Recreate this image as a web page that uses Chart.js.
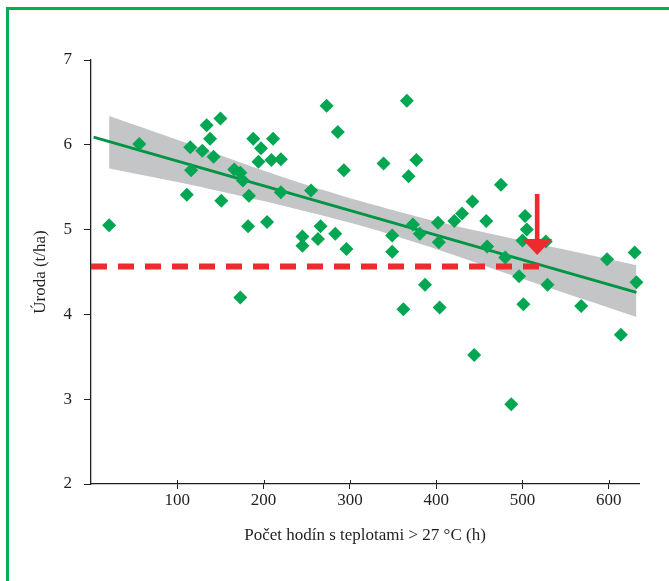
<!DOCTYPE html>
<html>
<head>
<meta charset="utf-8">
<script src="https://cdn.jsdelivr.net/npm/chart.js@4.4.0/dist/chart.umd.min.js"></script>
<style>
    html, body { margin: 0; padding: 0; background: #fff; }
    #wrap { position: relative; width: 669px; height: 581px; }
    #frame {
        position: absolute; left: 6px; top: 7px; right: 0; bottom: 0;
        border-top: 3px solid #00b050; border-left: 3px solid #00b050;
        pointer-events: none;
    }
</style>
</head>
<body>
<div id="wrap">
    <canvas id="chart" width="669" height="581"></canvas>
    <div id="frame"></div>
</div>
<script>
// observations: hours above 27 °C vs. yield (t/ha)
const hours = [21, 56, 111, 115, 116, 129, 134, 138, 142, 150, 151, 166, 173, 173, 176, 182, 183, 188, 194, 197,
    204, 209, 211, 220, 220, 245, 245, 255, 263, 266, 273, 283, 286, 293, 296, 339, 349, 349, 362, 366,
    368, 373, 377, 381, 387, 402, 403, 404, 421, 430, 442, 444, 458, 459, 475, 480, 487, 496, 500, 501,
    503, 505, 527, 529, 568, 598, 614, 630, 632];
const yields = [5.05, 6.01, 5.41, 5.97, 5.70, 5.93, 6.23, 6.07, 5.86, 6.31, 5.34, 5.71, 5.67, 4.20, 5.58, 5.04, 5.40, 6.07, 5.80, 5.96,
    5.09, 5.82, 6.07, 5.44, 5.83, 4.92, 4.81, 5.46, 4.89, 5.04, 6.46, 4.95, 6.15, 5.70, 4.77, 5.78, 4.93, 4.74, 4.06, 6.52,
    5.63, 5.06, 5.82, 4.95, 4.35, 5.08, 4.85, 4.08, 5.10, 5.19, 5.33, 3.52, 5.10, 4.80, 5.53, 4.67, 2.94, 4.45, 4.87, 4.12,
    5.16, 5.00, 4.86, 4.35, 4.10, 4.65, 3.76, 4.73, 4.38];

// regression line and its confidence band
const trendX = [3, 632];
const trendY = [6.09, 4.26];
const bandX = [21, 100, 219, 311, 403, 500, 632];
const bandLow = [5.72, 5.56, 5.29, 5.05, 4.76, 4.42, 3.97];
const bandHigh = [6.34, 6.06, 5.63, 5.34, 5.09, 4.87, 4.58];

// threshold line and arrow
const limitX = [0, 519.5];
const limitY = 4.565;
const arrowX = 517;
const arrowY = [5.42, 4.70];

const xTicks = [100, 200, 300, 400, 500, 600];

const ink = "#231f20";
const red = "#ee2a2f";
const font = { family: "'Liberation Serif', serif", size: 17 };

const toPoints = (xs, ys) => xs.map((x, i) => ({ x, y: ys[i] }));

const extras = {
    id: "extras",
    afterDatasetsDraw(chart) {
        const { ctx, scales: { x, y } } = chart;
        ctx.save();
        // x ticks also reach up into the plot a little
        ctx.strokeStyle = ink;
        ctx.lineWidth = 1;
        const bottom = chart.chartArea.bottom;
        xTicks.forEach(v => {
            const px = Math.round(x.getPixelForValue(v)) + 0.5;
            ctx.beginPath();
            ctx.moveTo(px, bottom - 4);
            ctx.lineTo(px, bottom);
            ctx.stroke();
        });
        // red arrow
        const ax = x.getPixelForValue(arrowX);
        const top = y.getPixelForValue(arrowY[0]);
        const tip = y.getPixelForValue(arrowY[1]);
        const headH = 16, headW = 30;
        ctx.fillStyle = red;
        ctx.fillRect(ax - 2.3, top, 4.6, tip - top - headH + 1);
        ctx.beginPath();
        ctx.moveTo(ax - headW / 2, tip - headH);
        ctx.lineTo(ax + headW / 2, tip - headH);
        ctx.lineTo(ax, tip);
        ctx.closePath();
        ctx.fill();
        ctx.restore();
    }
};

new Chart(document.getElementById("chart"), {
    type: "scatter",
    data: {
        datasets: [
            {
                type: "line",
                data: limitX.map(x => ({ x, y: limitY })),
                borderColor: red,
                borderWidth: 6,
                borderDash: [16, 11],
                borderCapStyle: "butt",
                pointRadius: 0,
                order: 0
            },
            {
                data: toPoints(hours, yields),
                pointStyle: "rectRot",
                pointRadius: 7,
                backgroundColor: "#00a651",
                borderWidth: 0,
                order: 1
            },
            {
                type: "line",
                data: toPoints(trendX, trendY),
                borderColor: "#009444",
                borderWidth: 2.8,
                pointRadius: 0,
                order: 2
            },
            {
                type: "line",
                data: toPoints(bandX, bandLow),
                borderWidth: 0,
                pointRadius: 0,
                tension: 0.3,
                order: 4
            },
            {
                type: "line",
                data: toPoints(bandX, bandHigh),
                borderWidth: 0,
                pointRadius: 0,
                tension: 0.3,
                fill: "-1",
                backgroundColor: "#c4c5c7",
                order: 3
            }
        ]
    },
    options: {
        responsive: false,
        animation: false,
        clip: false,
        layout: { padding: { top: 60, right: 30, left: 0, bottom: 0 } },
        plugins: { legend: { display: false }, tooltip: { enabled: false } },
        scales: {
            x: {
                type: "linear",
                min: 0,
                max: 635,
                afterBuildTicks: (scale) => { scale.ticks = xTicks.map(v => ({ value: v })); },
                afterFit: (scale) => { scale.height = 97; },
                ticks: { font, color: ink, padding: 1 },
                grid: { drawOnChartArea: false, tickLength: 5, color: ink },
                border: { color: ink, width: 1.3 },
                title: {
                    display: true,
                    text: "Počet hodín s teplotami > 27 °C (h)",
                    font, color: ink,
                    padding: { top: 4, bottom: 35 }
                }
            },
            y: {
                min: 2,
                max: 7,
                afterFit: (scale) => { scale.width = 91; },
                ticks: { stepSize: 1, font, color: ink, padding: 12 },
                grid: { drawOnChartArea: false, tickLength: 7, color: ink },
                border: { color: ink, width: 1.3 },
                title: {
                    display: true,
                    text: "Úroda (t/ha)",
                    font, color: ink,
                    padding: { top: 30, bottom: 0 }
                }
            }
        }
    },
    plugins: [extras]
});
</script>
</body>
</html>
